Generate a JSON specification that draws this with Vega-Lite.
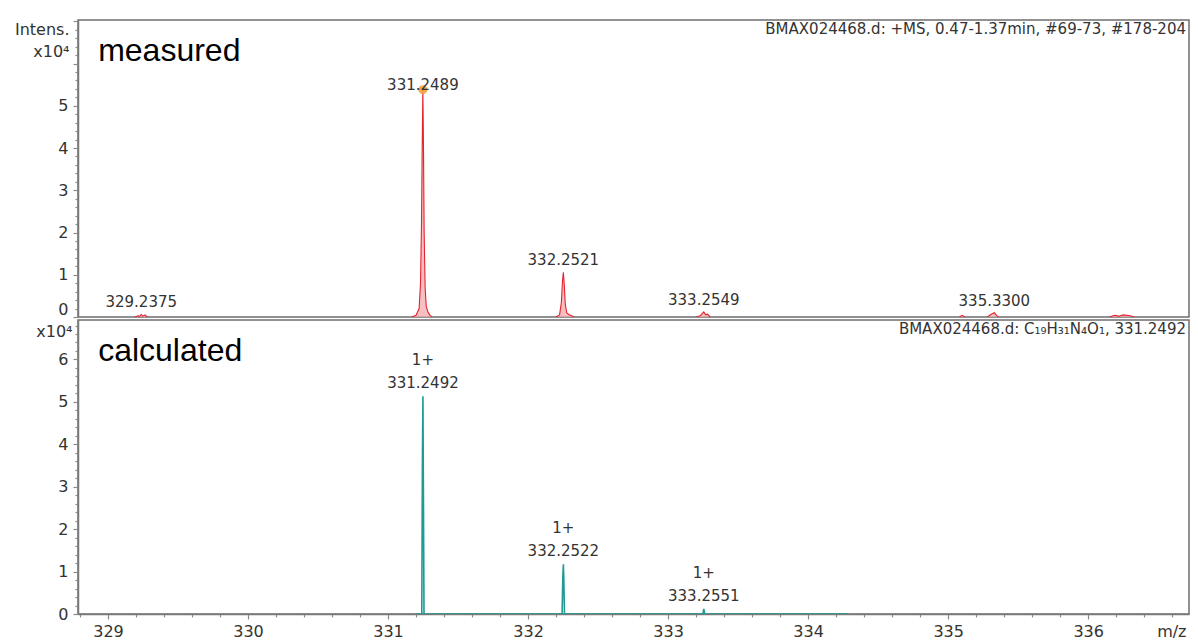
{
  "$schema": "https://vega.github.io/schema/vega-lite/v6.json",
  "background": "white",
  "padding": {"left": 0, "top": 19, "right": 8, "bottom": 0},
  "spacing": 0,
  "config": {
    "font": "DejaVu Sans",
    "view": {"stroke": "#6e6e6e", "strokeWidth": 1.5},
    "axis": {"grid": false, "domainColor": "#7a7a7a", "domainWidth": 1.5, "tickColor": "#8a8a8a", "tickWidth": 1.2, "labelColor": "#333333", "labelFont": "DejaVu Sans", "labelOverlap": false, "titleFont": "DejaVu Sans", "titleFontWeight": "normal", "titleColor": "#333333"}
  },
  "resolve": {"scale": {"x": "independent", "y": "independent"}},
  "datasets": {
    "measured": [
      {"peak": "a", "mz": 329.19, "i": 0}, {"peak": "a", "mz": 329.215, "i": 0.03}, {"peak": "a", "mz": 329.225, "i": 0.01}, {"peak": "a", "mz": 329.2375, "i": 0.06}, {"peak": "a", "mz": 329.25, "i": 0.02}, {"peak": "a", "mz": 329.265, "i": 0.05}, {"peak": "a", "mz": 329.28, "i": 0},
      {"peak": "b", "mz": 331.17, "i": 0}, {"peak": "b", "mz": 331.2, "i": 0.04}, {"peak": "b", "mz": 331.222, "i": 0.2}, {"peak": "b", "mz": 331.232, "i": 0.8}, {"peak": "b", "mz": 331.239, "i": 2.2}, {"peak": "b", "mz": 331.244, "i": 4.0}, {"peak": "b", "mz": 331.2489, "i": 5.38}, {"peak": "b", "mz": 331.253, "i": 4.1}, {"peak": "b", "mz": 331.258, "i": 2.0}, {"peak": "b", "mz": 331.265, "i": 0.7}, {"peak": "b", "mz": 331.273, "i": 0.25}, {"peak": "b", "mz": 331.285, "i": 0.12}, {"peak": "b", "mz": 331.3, "i": 0.04}, {"peak": "b", "mz": 331.315, "i": 0},
      {"peak": "c", "mz": 332.2, "i": 0}, {"peak": "c", "mz": 332.225, "i": 0.05}, {"peak": "c", "mz": 332.238, "i": 0.35}, {"peak": "c", "mz": 332.246, "i": 0.85}, {"peak": "c", "mz": 332.2521, "i": 1.06}, {"peak": "c", "mz": 332.258, "i": 0.8}, {"peak": "c", "mz": 332.266, "i": 0.3}, {"peak": "c", "mz": 332.276, "i": 0.1}, {"peak": "c", "mz": 332.29, "i": 0.06}, {"peak": "c", "mz": 332.31, "i": 0.03}, {"peak": "c", "mz": 332.33, "i": 0},
      {"peak": "d", "mz": 333.2, "i": 0}, {"peak": "d", "mz": 333.23, "i": 0.03}, {"peak": "d", "mz": 333.2549, "i": 0.12}, {"peak": "d", "mz": 333.268, "i": 0.05}, {"peak": "d", "mz": 333.28, "i": 0.07}, {"peak": "d", "mz": 333.3, "i": 0},
      {"peak": "e", "mz": 335.08, "i": 0}, {"peak": "e", "mz": 335.1, "i": 0.04}, {"peak": "e", "mz": 335.12, "i": 0},
      {"peak": "f", "mz": 335.28, "i": 0}, {"peak": "f", "mz": 335.31, "i": 0.07}, {"peak": "f", "mz": 335.33, "i": 0.1}, {"peak": "f", "mz": 335.345, "i": 0.04}, {"peak": "f", "mz": 335.36, "i": 0},
      {"peak": "g", "mz": 336.15, "i": 0}, {"peak": "g", "mz": 336.19, "i": 0.04}, {"peak": "g", "mz": 336.22, "i": 0.02}, {"peak": "g", "mz": 336.25, "i": 0.05}, {"peak": "g", "mz": 336.3, "i": 0.03}, {"peak": "g", "mz": 336.33, "i": 0}
    ],
    "measuredLabels": [
      {"mz": 329.2375, "i": 0.06, "label": "329.2375"},
      {"mz": 331.2489, "i": 5.2, "label": "331.2489"},
      {"mz": 332.2521, "i": 1.06, "label": "332.2521"},
      {"mz": 333.2549, "i": 0.12, "label": "333.2549"},
      {"mz": 335.33, "i": 0.1, "label": "335.3300"}
    ],
    "apex": [{"mz": 331.2489, "i": 5.38}],
    "calculated": [
      {"mz": 331.2, "i": 0}, {"mz": 331.241, "i": 0}, {"mz": 331.2455, "i": 3.5}, {"mz": 331.2492, "i": 5.13}, {"mz": 331.2525, "i": 3.0}, {"mz": 331.257, "i": 0},
      {"mz": 332.243, "i": 0}, {"mz": 332.2485, "i": 0.9}, {"mz": 332.2522, "i": 1.17}, {"mz": 332.2555, "i": 0.8}, {"mz": 332.26, "i": 0},
      {"mz": 333.249, "i": 0}, {"mz": 333.2551, "i": 0.12}, {"mz": 333.261, "i": 0}, {"mz": 334.28, "i": 0}
    ],
    "calculatedLabels": [
      {"mz": 331.2492, "i": 5.13, "label": "1+\n331.2492"},
      {"mz": 332.2522, "i": 1.17, "label": "1+\n332.2522"},
      {"mz": 333.2551, "i": 0.12, "label": "1+\n333.2551"}
    ],
    "topNames": [{"mz": 328.93, "i": 6.3, "t": "measured"}],
    "topInfo": [{"mz": 336.72, "i": 7.03, "t": "BMAX024468.d: +MS, 0.47-1.37min, #69-73, #178-204"}],
    "bottomNames": [{"mz": 328.93, "i": 6.2, "t": "calculated"}],
    "bottomInfo": [{"mz": 336.72, "i": 6.93, "t": "BMAX024468.d: C₁₉H₃₁N₄O₁, 331.2492"}]
  },
  "vconcat": [
    {
      "width": 1111,
      "height": 297,
      "encoding": {
        "x": {"field": "mz", "type": "quantitative", "scale": {"domain": [328.786, 336.72], "nice": false, "zero": false}, "axis": null},
        "y": {"field": "i", "type": "quantitative", "scale": {"domain": [0, 7.03], "nice": false},
          "axis": {
            "values": [0, 0.2, 0.4, 0.6, 0.8, 1, 1.2, 1.4, 1.6, 1.8, 2, 2.2, 2.4, 2.6, 2.8, 3, 3.2, 3.4, 3.6, 3.8, 4, 4.2, 4.4, 4.6, 4.8, 5, 5.2, 5.4, 5.6, 5.8, 6, 6.2, 6.4, 6.6, 6.8, 7],
            "labelExpr": "abs(datum.value - round(datum.value)) < 0.01 && datum.value < 5.5 ? format(datum.value, 'd') : ''",
            "labelFontSize": {"condition": {"test": "abs(datum.value - round(datum.value)) < 0.01 && datum.value < 5.5", "value": 16}, "value": 0},
            "tickSize": {"condition": {"test": "abs(datum.value - round(datum.value)) < 0.01", "value": 5}, "value": 3},
            "labelBaseline": {"condition": {"test": "datum.value === 0", "value": "bottom"}, "value": "middle"},
            "labelPadding": 5,
            "minExtent": 77, "maxExtent": 77,
            "title": ["Intens.", "x10⁴"],
            "titleFontSize": 16, "titleLineHeight": 22, "titleAngle": 0, "titleAlign": "right", "titleBaseline": "top", "titleX": -9, "titleY": 1
          }
        }
      },
      "layer": [
        {"data": {"name": "measured"}, "mark": {"type": "area", "color": "#f6a9ae", "opacity": 0.75, "clip": true}, "encoding": {"detail": {"field": "peak"}}},
        {"data": {"name": "measured"}, "mark": {"type": "line", "color": "#e4232e", "strokeWidth": 1.1, "clip": true}, "encoding": {"detail": {"field": "peak"}}},
        {"data": {"name": "apex"}, "mark": {"type": "point", "filled": true, "color": "#f2a23a", "size": 80, "opacity": 0.9}},
        {"data": {"name": "measuredLabels"}, "mark": {"type": "text", "baseline": "bottom", "align": "center", "dy": -4, "fontSize": 15, "font": "DejaVu Sans", "color": "#333333"}, "encoding": {"text": {"field": "label"}}},
        {"data": {"name": "topNames"}, "mark": {"type": "text", "align": "left", "baseline": "middle", "font": "Liberation Sans", "fontSize": 32, "color": "#000000"}, "encoding": {"text": {"field": "t"}}},
        {"data": {"name": "topInfo"}, "mark": {"type": "text", "align": "right", "baseline": "top", "dx": -3, "dy": 2, "font": "DejaVu Sans", "fontSize": 15, "color": "#333333"}, "encoding": {"text": {"field": "t"}}}
      ]
    },
    {
      "width": 1111,
      "height": 294,
      "encoding": {
        "x": {"field": "mz", "type": "quantitative", "scale": {"domain": [328.786, 336.72], "nice": false, "zero": false},
          "axis": {
            "values": [328.8, 329, 329.2, 329.4, 329.6, 329.8, 330, 330.2, 330.4, 330.6, 330.8, 331, 331.2, 331.4, 331.6, 331.8, 332, 332.2, 332.4, 332.6, 332.8, 333, 333.2, 333.4, 333.6, 333.8, 334, 334.2, 334.4, 334.6, 334.8, 335, 335.2, 335.4, 335.6, 335.8, 336, 336.2, 336.4, 336.6],
            "labelExpr": "abs(datum.value - round(datum.value)) < 0.01 ? format(datum.value, 'd') : ''",
            "labelFontSize": {"condition": {"test": "abs(datum.value - round(datum.value)) < 0.01", "value": 16}, "value": 0},
            "tickSize": {"condition": {"test": "abs(datum.value - round(datum.value)) < 0.01", "value": 5}, "value": 3},
            "labelPadding": 4,
            "title": "m/z", "titleFontSize": 16, "titleAlign": "right", "titleBaseline": "top", "titleX": 1108, "titleY": 9
          }
        },
        "y": {"field": "i", "type": "quantitative", "scale": {"domain": [0, 6.93], "nice": false},
          "axis": {
            "values": [0, 0.2, 0.4, 0.6, 0.8, 1, 1.2, 1.4, 1.6, 1.8, 2, 2.2, 2.4, 2.6, 2.8, 3, 3.2, 3.4, 3.6, 3.8, 4, 4.2, 4.4, 4.6, 4.8, 5, 5.2, 5.4, 5.6, 5.8, 6, 6.2, 6.4, 6.6, 6.8],
            "labelExpr": "abs(datum.value - round(datum.value)) < 0.01 ? format(datum.value, 'd') : ''",
            "labelFontSize": {"condition": {"test": "abs(datum.value - round(datum.value)) < 0.01", "value": 16}, "value": 0},
            "tickSize": {"condition": {"test": "abs(datum.value - round(datum.value)) < 0.01", "value": 5}, "value": 3},
            "labelPadding": 5,
            "minExtent": 77, "maxExtent": 77,
            "title": "x10⁴",
            "titleFontSize": 16, "titleAngle": 0, "titleAlign": "right", "titleBaseline": "top", "titleX": -6, "titleY": 3
          }
        }
      },
      "layer": [
        {"data": {"name": "calculated"}, "mark": {"type": "line", "color": "#1f9a94", "strokeWidth": 1.6, "clip": true}},
        {"data": {"name": "calculatedLabels"}, "mark": {"type": "text", "baseline": "bottom", "align": "center", "dy": -28, "lineBreak": "\n", "lineHeight": 23, "fontSize": 15, "font": "DejaVu Sans", "color": "#333333"}, "encoding": {"text": {"field": "label"}}},
        {"data": {"name": "bottomNames"}, "mark": {"type": "text", "align": "left", "baseline": "middle", "font": "Liberation Sans", "fontSize": 32, "color": "#000000"}, "encoding": {"text": {"field": "t"}}},
        {"data": {"name": "bottomInfo"}, "mark": {"type": "text", "align": "right", "baseline": "top", "dx": -3, "dy": 2, "font": "DejaVu Sans", "fontSize": 15, "color": "#333333"}, "encoding": {"text": {"field": "t"}}}
      ]
    }
  ]
}
